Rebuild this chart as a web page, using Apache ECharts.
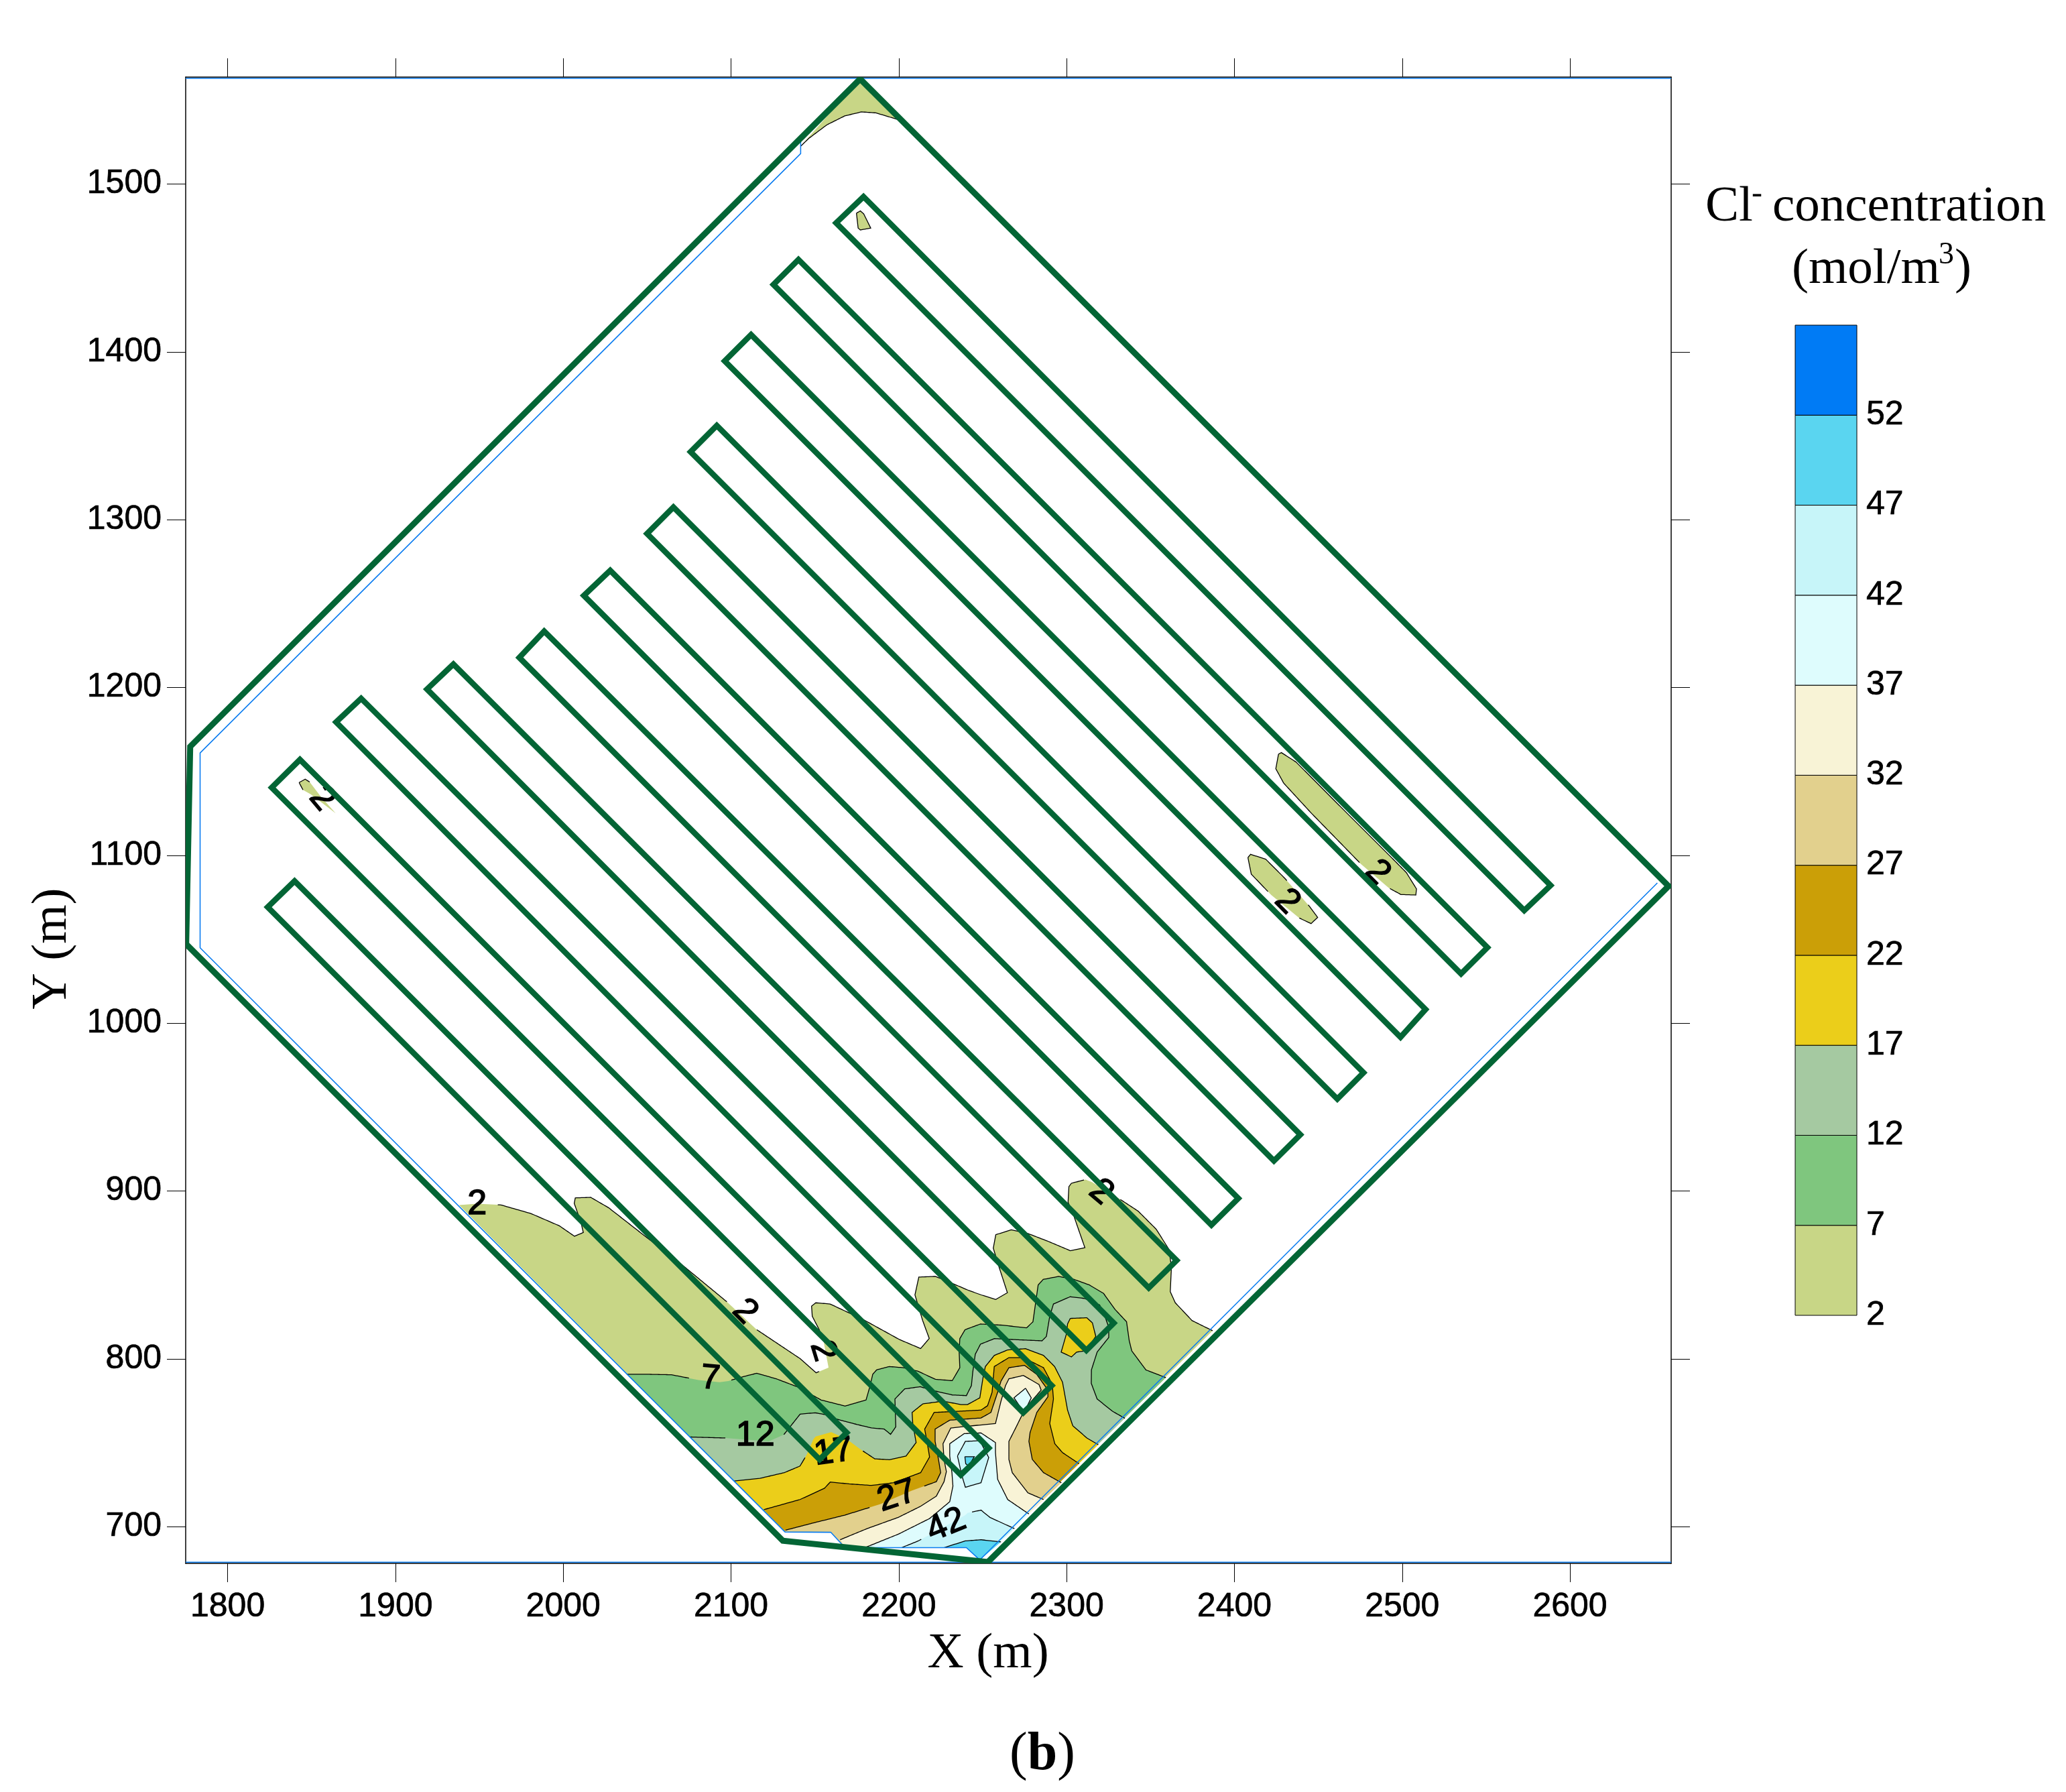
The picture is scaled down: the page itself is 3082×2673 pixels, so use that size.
<!DOCTYPE html>
<html>
<head>
<meta charset="utf-8">
<title>Cl- concentration</title>
<script src="https://cdn.jsdelivr.net/npm/echarts@6/dist/echarts.min.js"></script>
<style>
html, body { margin: 0; padding: 0; background: #fff; }
#chart { width: 3082px; height: 2673px; }
</style>
</head>
<body>
<div id="chart"></div>
<script>
// tick labels
const xTicks = [1800, 1900, 2000, 2100, 2200, 2300, 2400, 2500, 2600];
const yTicks = [700, 800, 900, 1000, 1100, 1200, 1300, 1400, 1500];

// colour scale
const levels = [2, 7, 12, 17, 22, 27, 32, 37, 42, 47, 52];
const levelColors = ['#C8D686', '#7FC67E', '#A5C9A1', '#EBCE1A', '#CB9F07', '#E2D08D',
    '#F8F3D6', '#DEFCFD', '#C7F5F9', '#5AD5F0', '#007BF5'];

// site outline and inner mesh edge (blue), in metres
const siteOutline = [[2177, 1562], [2658, 1082], [2253, 680], [2131, 692.7], [1776, 1047.5], [1778.4, 1165]];
const meshEdge = [[2141.6, 1524.7], [2141.6, 1517.6], [1784.3, 1161.2], [1784.3, 1045.3], [2132.3, 697.9],
    [2159.6, 697.7], [2168, 688.6], [2240.2, 688.6], [2248.2, 681.3], [2651.3, 1083.9]];

// trenches
const trenches = [
    [[1824.5, 1069.5], [1840.5, 1085], [2169, 757], [2152.9, 741]],
    [[1826.9, 1140.6], [1843.7, 1157.2], [2253.5, 747.8], [2236.9, 731.8]],
    [[1865.2, 1179.5], [1880.1, 1193.6], [2291, 785], [2274, 768.8]],
    [[1919.3, 1199.1], [1935, 1214], [2327.9, 822.2], [2311.6, 805.9]],
    [[1974.2, 1217.9], [1989, 1233.6], [2365.3, 859.4], [2348.7, 843.1]],
    [[2012.6, 1254.8], [2028.3, 1269.7], [2402, 896.3], [2386, 880.5]],
    [[2050.2, 1291.6], [2065.9, 1307.3], [2438.9, 934.2], [2423.2, 918.6]],
    [[2076.1, 1340.2], [2091.7, 1355.9], [2476.5, 971.1], [2460.9, 955.4]],
    [[2096.4, 1394.3], [2112.1, 1409.9], [2513.4, 1008.7], [2498.5, 992.2]],
    [[2125.4, 1439.7], [2140.3, 1454.6], [2550.2, 1045.5], [2534.5, 1029.9]],
    [[2162.7, 1476.4], [2179, 1492], [2587.8, 1082.4], [2572.1, 1067.5]]
];

// contour lines
const contour2 = [[1938.4, 892.3], [1949.1, 893.1], [1963.3, 892.4], [1981.1, 887.3], [1998, 880], [2007, 873.8],
    [2012.3, 876], [2010.9, 882], [2006.9, 893.3], [2007.5, 896.6], [2016.7, 896.9], [2027.4, 890.7], [2047, 875.4],
    [2071, 856.8], [2097.7, 834.8], [2115.5, 818.2], [2141.3, 801], [2150.8, 792.6], [2158.2, 795.6], [2154.7, 814.2],
    [2148.5, 826.2], [2148.1, 832.2], [2150.6, 834.2], [2159.1, 833.5], [2178.7, 824.3], [2200.5, 812.3], [2213, 807],
    [2218.1, 813], [2214.2, 823.6], [2209.6, 838.9], [2211.9, 849.5], [2221.8, 849.9], [2231, 846.1], [2241.7, 841.5],
    [2249.3, 838.8], [2257.7, 836.2], [2264.6, 840.2], [2259.2, 856.8], [2256.2, 866.7], [2257.7, 874.7], [2266.9, 877.6],
    [2276.8, 875.4], [2289, 870.7], [2302, 865.2], [2310.7, 867], [2307.3, 876.7], [2304.3, 885.4], [2300.7, 894],
    [2301.2, 903.3], [2302.7, 905.3], [2311.1, 907.5], [2314.9, 906], [2330.2, 896.7], [2342.4, 888.7], [2353.1, 878],
    [2360.7, 866], [2362.2, 855.4], [2361.5, 840.8], [2364.5, 834.2], [2374.5, 823.6], [2386.7, 817.6]];
const contour7 = [[2038.1, 791.7], [2050.6, 791.7], [2064.8, 791.4], [2080.8, 788.3], [2093.3, 787], [2098.6, 787.7],
    [2107.5, 790.3], [2115.5, 792.3], [2127.1, 789], [2139.5, 784.3], [2153.8, 776.4], [2168, 772.8], [2180.5, 776.4],
    [2182.6, 783.7], [2184.5, 791.7], [2186.8, 794.3], [2194.4, 796.3], [2202.8, 795.6], [2211.2, 793.6], [2221.8, 788.7],
    [2231.8, 787.9], [2236.3, 795.6], [2235.9, 804.9], [2236.3, 812.9], [2239.4, 818.2], [2248.6, 821.6], [2261.5, 820.9],
    [2276, 819.3], [2279.8, 822.9], [2281.4, 834.2], [2282.9, 844.8], [2285.9, 848.1], [2295.1, 849.9], [2304.3, 848.1],
    [2313.4, 844.8], [2321.8, 839.8], [2328.7, 830.2], [2335.5, 822.9], [2337.1, 811.6], [2338.6, 805.6], [2347, 794.3],
    [2358.9, 789.7]];
const contour12 = [[2075.5, 754.4], [2096.8, 753.8], [2105.7, 753.1], [2122.6, 751.8], [2131.6, 755.8], [2141.3, 768],
    [2150.2, 768.8], [2157.4, 767.5], [2162.7, 765.1], [2175.2, 761.8], [2183.7, 759.8], [2191.3, 759.1], [2195.1, 756],
    [2198.2, 760.4], [2197.7, 777], [2203.5, 783], [2212.7, 784.3], [2221.8, 781.7], [2231.8, 779.4], [2240.2, 779],
    [2243.2, 785], [2244, 793], [2245.5, 803.6], [2248.6, 809.6], [2256.9, 812.9], [2269.2, 812.3], [2285.2, 811.6],
    [2287.8, 814.2], [2289.8, 826.2], [2292, 833.5], [2302, 837.8], [2310.4, 836.8], [2319.5, 832.9], [2322.6, 826.2],
    [2324.9, 819.6], [2324.9, 813.6], [2318, 804.9], [2314.6, 794.3], [2314.5, 786.3], [2318, 777], [2327.1, 769.7],
    [2334.5, 765.5]];
const contour17 = [[2102, 728.2], [2117.3, 729.8], [2131.9, 733.2], [2141.2, 737.1], [2145.2, 743.8], [2149.2, 753.1],
    [2150.5, 754.7], [2159.8, 757.3], [2169.1, 753.1], [2177.1, 747.1], [2185.7, 741.4], [2194.4, 740.9], [2204.3, 743.1],
    [2210.3, 751.1], [2208.3, 762.4], [2207.9, 769], [2214.3, 774.1], [2226.3, 775.7], [2236.9, 773.7], [2240.9, 773.7],
    [2248.2, 777.7], [2250.2, 790.3], [2251.5, 796.3], [2256.8, 802.9], [2264.8, 806.2], [2275.4, 806.9], [2286.1, 802.9],
    [2292.7, 796.3], [2297.4, 787], [2300.4, 770.4], [2303.5, 761.1], [2311.9, 753.8], [2318.7, 749.8]];
const contour17b = [[2302, 824.9], [2311.9, 825.3], [2315.2, 822.2], [2317.2, 814.2], [2311.1, 805.6], [2305.8, 804.9],
    [2302.7, 802], [2296.6, 804.9], [2299.7, 815.6], [2300.4, 821.6]];
const contour22 = [[2119.7, 711.2], [2141.2, 717.2], [2155.8, 723.9], [2159.2, 727.6], [2170.5, 726.5], [2183.7, 725.6],
    [2197, 727.2], [2213, 733.2], [2218.3, 742.5], [2217, 750.4], [2215.4, 759.1], [2221, 769], [2235.6, 769.7],
    [2248.9, 770.4], [2252.8, 773], [2255.5, 781], [2256.8, 796.3], [2265.5, 801.6], [2274.1, 801.6], [2286.1, 795.6],
    [2291.3, 785.7], [2292, 777], [2289.8, 762.4], [2292.8, 750.4], [2297.4, 745.1], [2307.3, 738.5]];
const contour27 = [[2132.6, 699], [2149.2, 703.3], [2167.8, 707.9], [2189.1, 714.5], [2207.7, 722.5], [2217, 725.9],
    [2222.3, 727.8], [2224.9, 733.2], [2223.6, 741.1], [2221.6, 751.8], [2221.6, 759.1], [2230.3, 764.4], [2248.9, 765.7],
    [2254.8, 769], [2258.8, 781], [2260.8, 787.6], [2265.5, 795.6], [2274.8, 797], [2282.1, 791.6], [2288.7, 782.3],
    [2288.7, 778.3], [2282.1, 769], [2278.1, 757.1], [2277.4, 751.8], [2279.4, 741.1], [2286.1, 733.2], [2296.7, 727.2]];
const contour32 = [[2165.1, 693.3], [2181.1, 699.9], [2199.7, 706.6], [2213, 713.2], [2222.3, 719.2], [2226.9, 727.8],
    [2228.3, 733.8], [2226.9, 741.1], [2226.3, 750.4], [2230.9, 759.7], [2236.9, 760.4], [2257.5, 762.4], [2260.8, 775.7],
    [2263.5, 785], [2265.5, 789], [2274.1, 791], [2283.4, 785.6], [2284.7, 782.3], [2275.4, 771.7], [2269.5, 759.7],
    [2265.5, 751.8], [2265.5, 741.1], [2267.5, 733.2], [2276.8, 721.2], [2286.1, 717.2]];
const contour37 = [[2179.8, 688.6], [2199.7, 696.6], [2218.3, 705.9], [2230.3, 715.9], [2232.2, 725.2], [2231.6, 733.2],
    [2230.3, 743.1], [2230.3, 750.4], [2238.9, 756.4], [2248.9, 756.8], [2257.5, 751.1], [2257.5, 745.1], [2258.8, 729.2],
    [2264.8, 717.2], [2277.4, 708.6]];
const contour37b = [[2275.4, 783.4], [2278.8, 777.7], [2274.5, 769], [2268.5, 777.7]];
const contour42 = [[2201.7, 688.6], [2211.6, 692.6], [2239.6, 707.9], [2240.9, 709.2], [2248.9, 710.9], [2254.2, 706.6],
    [2268.8, 699.9]];
const contour42b = [[2234.9, 743.1], [2239.6, 751.8], [2248.2, 752.2], [2253.5, 742.2], [2248.9, 727.2], [2239.6, 724.5],
    [2237.6, 731.2]];
const contour47 = [[2226.9, 688.6], [2239.6, 692.6], [2248.9, 693.3], [2260.8, 692]];
const contour47b = [[2239.3, 742.7], [2244.9, 742.7], [2241.6, 737.1], [2239.8, 738.5]];

// isolated patches of the 2 level
const patchApex = [[2141.6, 1522], [2146.5, 1526.7], [2157.2, 1534.7], [2167.8, 1540], [2177.8, 1542.4], [2186.4, 1541.8],
    [2200.4, 1537.6]];
const patchTrench11 = [[2174.8, 1482.2], [2177.1, 1483.5], [2179.1, 1481.8], [2183.3, 1473.3], [2177.1, 1472.2], [2175.8, 1473.3]];
const patchTrench2 = [[1843.2, 1143.6], [1846.8, 1145.6], [1849.5, 1143.9], [1856.1, 1135.2], [1865, 1125.3], [1855.4, 1132.6],
    [1850.1, 1136.6], [1845.5, 1139.2]];
const patchLong = [[2425.9, 1160.5], [2427.6, 1161.4], [2436.3, 1155.8], [2466.8, 1125.2], [2493.4, 1098.7], [2502, 1090],
    [2508, 1080.3], [2507.6, 1076.7], [2498.7, 1077], [2491.4, 1081], [2474.8, 1095.3], [2445.6, 1125.2], [2429, 1143.2], [2424.3, 1151.8]];
const patchShort = [[2407.7, 1099], [2409.3, 1100.9], [2418.3, 1098], [2429.6, 1086.7], [2444.2, 1070.1], [2449.2, 1063.4],
    [2445.3, 1059.7], [2438.3, 1063], [2421.6, 1076.7], [2409.7, 1089.1]];

// how the open contours close along the mesh edge
const tailFull = [[2248.2, 681.3], [2240.2, 688.6], [2168, 688.6], [2159.6, 697.7], [2132.3, 697.9]];
const tailMid = [[2248.2, 681.3], [2240.2, 688.6], [2168, 688.6]];
const tailShort = [[2248.2, 681.3], [2240.2, 688.6]];
const tailApex = [[2177, 1562]];

// contour labels: x, y, text, level index, clockwise turn in degrees
const labelX = [1949.1, 2108.4, 2154.7, 2087.9, 2114.6, 2161.1, 2199, 2228.3, 2320.3, 2484.8, 2431, 1856.8];
const labelY = [892.7, 828.9, 805.6, 789, 755.1, 745.1, 719.2, 701.9, 900, 1090, 1072.7, 1133.9];
const labelText = ['2', '2', '2', '7', '12', '17', '27', '42', '2', '2', '2', '2'];
const labelLevel = [0, 0, 0, 1, 2, 3, 5, 8, 0, 0, 0, 0];
const labelTurn = [0, 45, 73, 5, 0, -8, -18, -22, 40, 45, 45, 50];

// painter's order: every region is drawn over the lower level
const regions = [
    { line: contour2, tail: tailFull, level: 0 },
    { line: patchApex, tail: tailApex, level: 0 },
    { line: patchTrench11, closed: true, level: 0 },
    { line: patchTrench2, closed: true, level: 0 },
    { line: patchLong, closed: true, level: 0 },
    { line: patchShort, closed: true, level: 0 },
    { line: contour7, tail: tailFull, level: 1 },
    { line: contour12, tail: tailFull, level: 2 },
    { line: contour17, tail: tailFull, level: 3 },
    { line: contour17b, closed: true, level: 3 },
    { line: contour22, tail: tailFull, level: 4 },
    { line: contour27, tail: tailFull, level: 5 },
    { line: contour32, tail: tailMid, level: 6 },
    { line: contour37, tail: tailShort, level: 7 },
    { line: contour37b, closed: true, level: 7 },
    { line: contour42, tail: tailShort, level: 8 },
    { line: contour42b, closed: true, level: 8 },
    { line: contour47, tail: tailShort, level: 9 },
    { line: contour47b, closed: true, level: 9 }
];

const chart = echarts.init(document.getElementById('chart'));

const labelFont = 'Liberation Sans';
const serif = 'Liberation Serif';
const frameColor = '#000';
const greenLine = '#036535';
const blueLine = '#0a7cf0';

const xMin = 1775, xMax = 2660.3, yMin = 678.15, yMax = 1563.7;

// the values above were read with a slightly rough ruler, this trues them up to the ticks
function trueUp(p) {
    return [2099.83 + (p[0] - 2100) * 1.0017, 698.96 + (p[1] - 700) * 1.0019];
}

// cut a contour where a number sits on it, the original leaves a gap there
function splitAtLabels(points, level) {
    const pieces = [];
    let cur = [];
    for (let i = 0; i < points.length - 1; i++) {
        const a = points[i], b = points[i + 1];
        const steps = Math.max(1, Math.ceil(Math.hypot(b[0] - a[0], b[1] - a[1])));
        for (let s = 0; s <= steps; s++) {
            const p = [a[0] + (b[0] - a[0]) * s / steps, a[1] + (b[1] - a[1]) * s / steps];
            const hidden = labelX.some((x, j) => labelLevel[j] === level &&
                Math.hypot(p[0] - x, p[1] - labelY[j]) < (labelText[j].length > 1 ? 17 : 12));
            if (hidden) {
                if (cur.length > 1) pieces.push(cur);
                cur = [];
            } else {
                cur.push(p);
            }
        }
    }
    if (cur.length > 1) pieces.push(cur);
    return pieces;
}

function mainAxis(position, ticks, min, max, showLabel, margin, padTop) {
    return {
        type: 'value',
        position: position,
        min: min,
        max: max,
        splitLine: { show: false },
        axisLine: { show: true, onZero: false, lineStyle: { color: frameColor, width: 1.5 } },
        axisTick: { show: true, length: 28, inside: false, customValues: ticks, lineStyle: { color: frameColor, width: 1 } },
        axisLabel: {
            show: showLabel,
            customValues: ticks,
            formatter: function (val) {
                return String(val);
            },
            margin: margin,
            padding: [padTop, 0, 0, 0],
            fontFamily: labelFont,
            fontSize: 50,
            color: '#000',
            textBorderColor: '#000',
            textBorderWidth: 0.7
        }
    };
}

const option = {
    animation: false,
    backgroundColor: '#fff',
    grid: [
        { left: 277, top: 115, width: 2216, height: 2217 },
        { left: 2678, top: 485, width: 92, height: 1477 }
    ],
    xAxis: [
        mainAxis('bottom', xTicks, xMin, xMax, true, 40, 0),
        mainAxis('top', xTicks, xMin, xMax, false, 40, 0),
        { gridIndex: 1, type: 'value', min: 0, max: 1, show: false }
    ],
    yAxis: [
        mainAxis('left', yTicks, yMin, yMax, true, 36, 8),
        mainAxis('right', yTicks, yMin, yMax, false, 36, 0),
        {
            gridIndex: 1,
            type: 'value',
            position: 'right',
            min: 2,
            max: 57,
            splitLine: { show: false },
            axisLine: { show: false },
            axisTick: { show: false },
            axisLabel: {
                customValues: levels,
                margin: 14,
                padding: [14, 0, 0, 0],
                fontFamily: labelFont,
                fontSize: 50,
                color: '#000',
                textBorderColor: '#000',
                textBorderWidth: 0.7
            }
        }
    ],
    series: [
        {
            // filled contour bands
            type: 'custom',
            xAxisIndex: 0,
            yAxisIndex: 0,
            clip: true,
            z: 1,
            data: regions.map(r => r.line[0]),
            renderItem: function (params, api) {
                const r = regions[params.dataIndex];
                const pts = r.line.concat(r.tail || []).map(p => api.coord(trueUp(p)));
                return {
                    type: 'polygon',
                    shape: { points: pts },
                    style: { fill: levelColors[r.level], stroke: null }
                };
            }
        },
        {
            // thin contour lines
            type: 'custom',
            xAxisIndex: 0,
            yAxisIndex: 0,
            clip: true,
            z: 2,
            data: regions.map(r => r.line[0]),
            renderItem: function (params, api) {
                const r = regions[params.dataIndex];
                const path = r.closed ? r.line.concat([r.line[0]]) : r.line;
                return {
                    type: 'group',
                    children: splitAtLabels(path, r.level).map(piece => ({
                        type: 'polyline',
                        shape: { points: piece.map(p => api.coord(trueUp(p))) },
                        style: { fill: null, stroke: '#000', lineWidth: 1.3 }
                    }))
                };
            }
        },
        {
            // numbers on the contours
            type: 'custom',
            xAxisIndex: 0,
            yAxisIndex: 0,
            clip: false,
            z: 3,
            data: labelX.map((x, i) => [x, labelY[i]]),
            renderItem: function (params, api) {
                const i = params.dataIndex;
                const c = api.coord(trueUp([labelX[i], labelY[i]]));
                return {
                    type: 'text',
                    x: c[0],
                    y: c[1],
                    rotation: -labelTurn[i] * Math.PI / 180,
                    style: {
                        text: labelText[i],
                        fontFamily: labelFont,
                        fontSize: 52,
                        fill: '#000',
                        stroke: '#000',
                        lineWidth: 1.5,
                        align: 'center',
                        verticalAlign: 'middle'
                    }
                };
            }
        },
        {
            // mesh edge
            type: 'line',
            xAxisIndex: 0,
            yAxisIndex: 0,
            z: 4,
            showSymbol: false,
            silent: true,
            data: meshEdge.map(trueUp),
            lineStyle: { color: blueLine, width: 1.6 }
        },
        {
            // blue rim lines along the top and bottom of the frame
            type: 'custom',
            xAxisIndex: 0,
            yAxisIndex: 0,
            clip: true,
            z: 4,
            data: [[xMin, yMax - 0.7], [xMin, yMin + 0.7]],
            renderItem: function (params, api) {
                const y = params.dataIndex === 0 ? yMax - 0.7 : yMin + 0.7;
                return {
                    type: 'line',
                    shape: { x1: api.coord([xMin, y])[0], y1: api.coord([xMin, y])[1], x2: api.coord([xMax, y])[0], y2: api.coord([xMax, y])[1] },
                    style: { stroke: blueLine, lineWidth: 1.5 }
                };
            }
        },
        {
            // trenches
            type: 'custom',
            xAxisIndex: 0,
            yAxisIndex: 0,
            clip: true,
            z: 5,
            data: trenches.map(t => t[0]),
            renderItem: function (params, api) {
                return {
                    type: 'polygon',
                    shape: { points: trenches[params.dataIndex].map(p => api.coord(trueUp(p))) },
                    style: { fill: null, stroke: greenLine, lineWidth: 8.5, lineJoin: 'miter' }
                };
            }
        },
        {
            // site outline
            type: 'custom',
            xAxisIndex: 0,
            yAxisIndex: 0,
            clip: true,
            z: 6,
            data: [siteOutline[0]],
            renderItem: function (params, api) {
                return {
                    type: 'polygon',
                    shape: { points: siteOutline.map(p => api.coord(trueUp(p))) },
                    style: { fill: null, stroke: greenLine, lineWidth: 9, lineJoin: 'miter' }
                };
            }
        },
        {
            // colour key
            type: 'custom',
            xAxisIndex: 2,
            yAxisIndex: 2,
            clip: false,
            z: 2,
            data: levels.map(l => [0, l]),
            renderItem: function (params, api) {
                const l = levels[params.dataIndex];
                const a = api.coord([0, l + 5]);
                const b = api.coord([1, l]);
                return {
                    type: 'rect',
                    shape: { x: a[0], y: a[1], width: b[0] - a[0], height: b[1] - a[1] },
                    style: { fill: levelColors[params.dataIndex], stroke: '#000', lineWidth: 1 }
                };
            }
        }
    ],
    graphic: [
        { type: 'text', x: 1474, y: 2467, style: { text: 'X (m)', fontFamily: serif, fontSize: 75, fill: '#000', align: 'center', verticalAlign: 'middle' } },
        { type: 'text', x: 78, y: 1415, rotation: Math.PI / 2, style: { text: 'Y (m)', fontFamily: serif, fontSize: 75, fill: '#000', align: 'center', verticalAlign: 'middle' } },
        { type: 'text', x: 2544, y: 309, style: { text: 'Cl', fontFamily: serif, fontSize: 75, fill: '#000', align: 'left', verticalAlign: 'middle' } },
        { type: 'text', x: 2613, y: 290, style: { text: '-', fontFamily: serif, fontSize: 48, fill: '#000', align: 'left', verticalAlign: 'middle' } },
        { type: 'text', x: 2644, y: 309, style: { text: 'concentration', fontFamily: serif, fontSize: 75, fill: '#000', align: 'left', verticalAlign: 'middle' } },
        { type: 'text', x: 2673, y: 402, style: { text: '(mol/m', fontFamily: serif, fontSize: 75, fill: '#000', align: 'left', verticalAlign: 'middle' } },
        { type: 'text', x: 2892, y: 381, style: { text: '3', fontFamily: serif, fontSize: 46, fill: '#000', align: 'left', verticalAlign: 'middle' } },
        { type: 'text', x: 2916, y: 402, style: { text: ')', fontFamily: serif, fontSize: 75, fill: '#000', align: 'left', verticalAlign: 'middle' } },
        {
            type: 'text',
            x: 1555,
            y: 2618,
            style: {
                text: '{p|(}{b|b}{p|)}',
                align: 'center',
                verticalAlign: 'middle',
                rich: {
                    p: { fontFamily: serif, fontSize: 80, fill: '#000' },
                    b: { fontFamily: serif, fontWeight: 'bold', fontSize: 80, fill: '#000' }
                }
            }
        }
    ]
};

chart.setOption(option);
</script>
</body>
</html>
